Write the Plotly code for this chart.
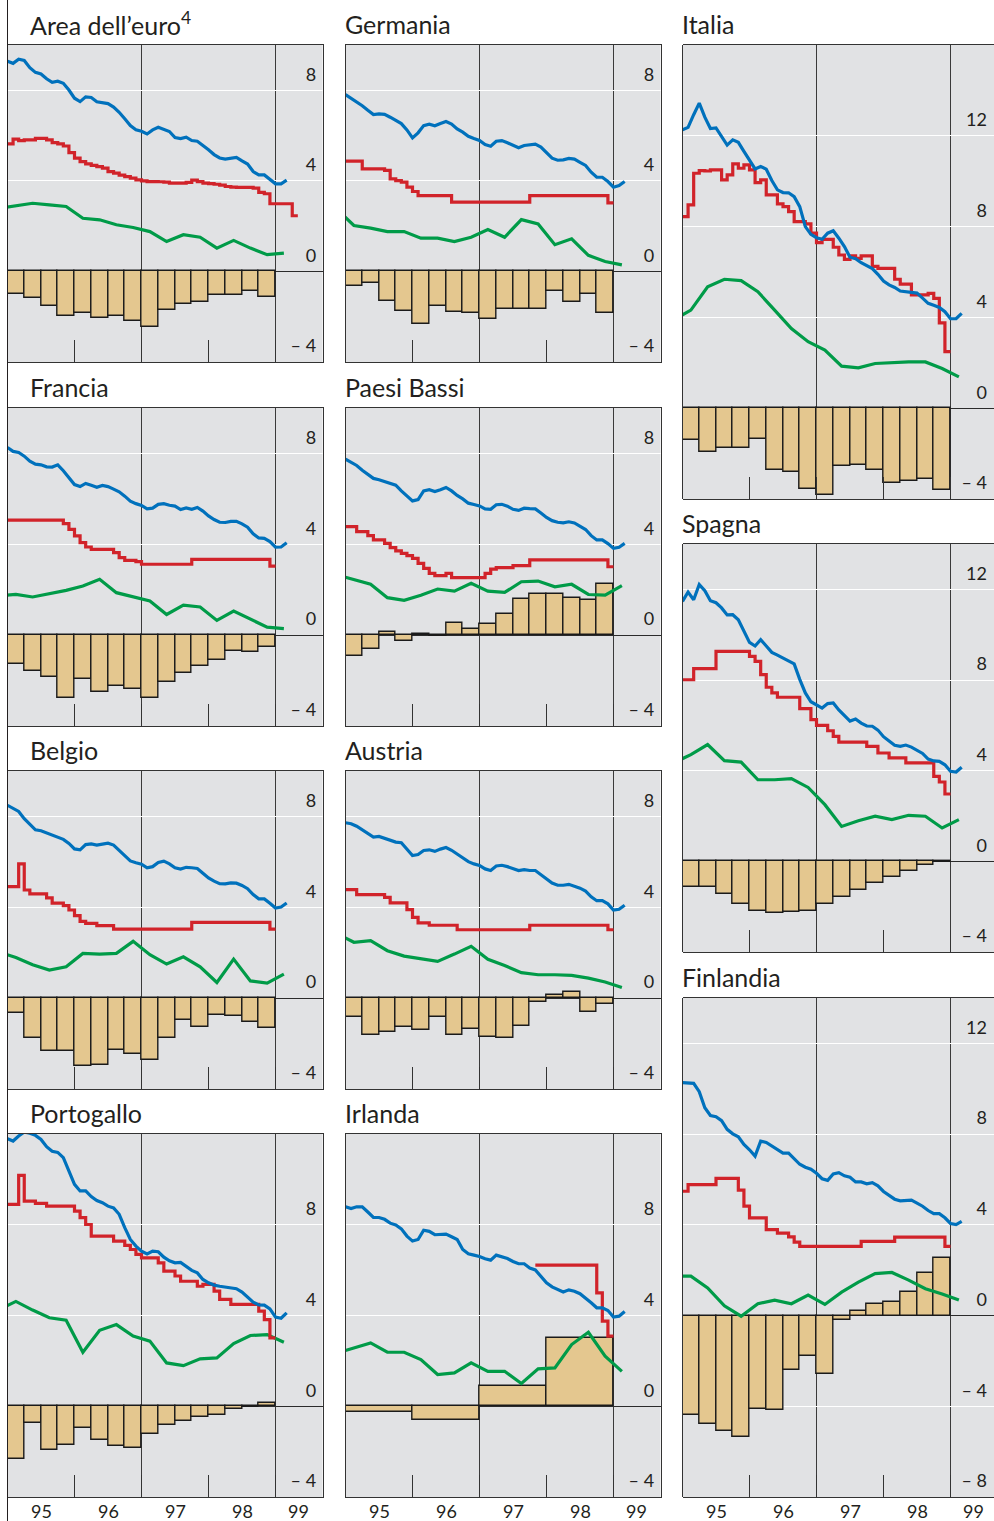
import plotly.graph_objects as go

W, H = 994, 1521
PX_PER_YEAR = 67.0
PANEL_W = 315.0

BLUE = "#0071BC"
RED = "#D1232A"
GREEN = "#009B48"
BAR_FILL = "#E4C78F"
INK = "#231F20"
BG = "#E1E2E4"

YEAR_LABELS = ["95", "96", "97", "98", "99"]
YEAR_LABEL_POS = [1995.5, 1996.5, 1997.5, 1998.5, 1999.35]
YEAR_TICKS = [1996, 1997, 1998, 1999]
FULL_LINES = [1997, 1999]

# ---------------- data (monthly from Jan 1995 / quarterly) ----------------
BLUE_AREA = [9.28, 9.19, 9.37, 9.32, 9.0, 8.79, 8.72, 8.51, 8.35, 8.40,
             8.31, 8.01, 7.65, 7.5, 7.71, 7.68, 7.49, 7.44, 7.41, 7.26,
             7.03, 6.74, 6.44, 6.26, 6.19, 6.07, 6.25, 6.37, 6.28, 6.18,
             5.91, 5.87, 5.93, 5.78, 5.75, 5.57, 5.37, 5.16, 5.01, 4.96,
             5.01, 5.04, 4.88, 4.74, 4.41, 4.26, 4.26, 4.07, 3.87, 3.87, 4.03]
BLUE_GER = [7.81, 7.66, 7.5, 7.32, 7.12, 6.93, 6.96, 6.94, 6.81, 6.65,
            6.53, 6.25, 5.9, 6.12, 6.44, 6.5, 6.43, 6.53, 6.62, 6.51,
            6.29, 6.15, 5.97, 5.87, 5.78, 5.6, 5.53, 5.75, 5.78, 5.68,
            5.56, 5.46, 5.56, 5.59, 5.62, 5.49, 5.22, 5.0, 4.91, 4.93,
            4.99, 4.96, 4.82, 4.68, 4.38, 4.16, 4.16, 3.97, 3.72, 3.79, 3.97]
BLUE_ITA = [12.26, 12.37, 12.93, 13.44, 12.82, 12.32, 12.35, 11.97, 11.59, 11.82,
            11.71, 11.31, 10.91, 10.54, 10.65, 10.53, 10.03, 9.62, 9.5, 9.49,
            9.32, 8.88, 8.0, 7.66, 7.51, 7.44, 7.71, 7.82, 7.49, 7.12,
            6.65, 6.59, 6.41, 6.26, 6.15, 5.9, 5.6, 5.43, 5.32, 5.16,
            5.13, 5.12, 5.07, 4.85, 4.62, 4.53, 4.44, 4.25, 3.94, 3.94, 4.18]
BLUE_FRA = [8.26, 8.09, 8.04, 7.88, 7.66, 7.53, 7.5, 7.41, 7.4, 7.5,
            7.24, 6.91, 6.63, 6.54, 6.68, 6.6, 6.51, 6.59, 6.54, 6.43,
            6.31, 6.12, 5.9, 5.79, 5.71, 5.56, 5.59, 5.76, 5.79, 5.72,
            5.68, 5.53, 5.6, 5.54, 5.62, 5.46, 5.25, 5.09, 4.97, 4.96,
            5.01, 5.01, 4.9, 4.75, 4.46, 4.28, 4.26, 4.12, 3.87, 3.88, 4.07]
BLUE_NLD = [7.75, 7.6, 7.47, 7.26, 7.06, 6.9, 6.84, 6.75, 6.68, 6.6,
            6.35, 6.15, 5.91, 5.97, 6.35, 6.4, 6.32, 6.4, 6.5, 6.35,
            6.15, 6.0, 5.81, 5.75, 5.69, 5.56, 5.54, 5.74, 5.76, 5.68,
            5.54, 5.49, 5.59, 5.57, 5.56, 5.38, 5.18, 5.04, 4.97, 4.94,
            4.99, 4.94, 4.79, 4.65, 4.38, 4.19, 4.19, 4.03, 3.82, 3.87, 4.04]
BLUE_ESP = [11.47, 11.88, 11.54, 12.21, 11.94, 11.5, 11.41, 11.18, 10.87, 10.88,
            10.66, 10.15, 9.66, 9.5, 9.78, 9.5, 9.22, 9.1, 8.96, 8.82,
            8.71, 8.03, 7.43, 7.04, 6.88, 6.76, 6.96, 6.99, 6.68, 6.44,
            6.19, 6.28, 6.1, 5.97, 5.96, 5.79, 5.5, 5.31, 5.12, 5.07,
            5.13, 5.04, 4.9, 4.76, 4.51, 4.43, 4.41, 4.26, 3.97, 3.94, 4.15]
BLUE_BEL = [8.49, 8.34, 8.22, 7.9, 7.66, 7.41, 7.37, 7.28, 7.16, 7.09,
            6.99, 6.81, 6.57, 6.53, 6.76, 6.79, 6.74, 6.78, 6.82, 6.74,
            6.51, 6.24, 6.04, 5.96, 5.9, 5.74, 5.79, 5.97, 6.03, 5.91,
            5.74, 5.68, 5.76, 5.74, 5.71, 5.5, 5.29, 5.15, 5.04, 5.03,
            5.07, 5.06, 4.96, 4.82, 4.56, 4.37, 4.37, 4.18, 3.97, 4.01, 4.19]
BLUE_AUT = [7.72, 7.68, 7.57, 7.41, 7.24, 7.09, 7.12, 7.04, 6.93, 6.87,
            6.84, 6.54, 6.28, 6.32, 6.5, 6.53, 6.46, 6.56, 6.63, 6.51,
            6.35, 6.18, 6.01, 5.91, 5.84, 5.69, 5.62, 5.82, 5.85, 5.79,
            5.71, 5.62, 5.66, 5.62, 5.62, 5.44, 5.22, 5.07, 4.97, 4.97,
            5.01, 4.94, 4.84, 4.71, 4.46, 4.29, 4.29, 4.15, 3.88, 3.91, 4.09]
BLUE_FIN = [10.27, 10.25, 10.24, 9.87, 9.16, 8.82, 8.77, 8.59, 8.21, 8.01,
            7.88, 7.54, 7.31, 7.03, 7.69, 7.63, 7.47, 7.33, 7.16, 7.16,
            6.9, 6.67, 6.54, 6.45, 6.27, 6.03, 5.96, 6.24, 6.3, 6.16,
            6.1, 5.89, 5.89, 5.81, 5.86, 5.72, 5.47, 5.28, 5.13, 5.06,
            5.06, 5.09, 4.96, 4.82, 4.63, 4.49, 4.49, 4.31, 4.06, 4.01, 4.15]
BLUE_PRT = [11.79, 11.69, 11.91, 12.09, 12.03, 11.94, 11.76, 11.44, 11.24, 11.19,
            10.96, 10.37, 9.78, 9.49, 9.49, 9.24, 9.07, 8.97, 8.82, 8.74,
            8.46, 7.87, 7.35, 7.06, 6.84, 6.71, 6.84, 6.81, 6.57, 6.41,
            6.32, 6.34, 6.18, 5.99, 5.88, 5.59, 5.44, 5.34, 5.29, 5.25,
            5.22, 5.18, 5.03, 4.82, 4.59, 4.47, 4.46, 4.29, 3.93, 3.88, 4.12]
BLUE_IRL = [8.79, 8.71, 8.79, 8.79, 8.56, 8.32, 8.32, 8.24, 8.07, 7.99,
            7.82, 7.5, 7.28, 7.35, 7.76, 7.71, 7.56, 7.59, 7.59, 7.47,
            7.35, 6.91, 6.72, 6.66, 6.6, 6.5, 6.44, 6.66, 6.59, 6.51,
            6.38, 6.28, 6.28, 6.09, 6.01, 5.74, 5.44, 5.26, 5.15, 5.04,
            5.13, 5.07, 4.96, 4.78, 4.56, 4.34, 4.34, 4.22, 3.93, 3.97, 4.18]

RED_AREA = [5.63, 5.84, 5.78, 5.81, 5.81, 5.88, 5.88, 5.81, 5.69, 5.63,
            5.54, 5.25, 5.0, 4.85, 4.75, 4.68, 4.63, 4.56, 4.41, 4.34,
            4.25, 4.19, 4.12, 4.04, 4.0, 3.97, 3.97, 3.96, 3.94, 3.9,
            3.9, 3.9, 3.93, 4.03, 3.97, 3.9, 3.88, 3.85, 3.81, 3.75,
            3.72, 3.71, 3.71, 3.71, 3.68, 3.49, 3.43, 2.99, 2.99, 2.99,
            2.99, 2.46]
RED_GER = [4.87, 4.87, 4.87, 4.53, 4.53, 4.53, 4.53, 4.46, 4.09, 4.01,
           3.94, 3.72, 3.53, 3.35, 3.35, 3.35, 3.35, 3.35, 3.35, 3.06,
           3.06, 3.06, 3.06, 3.06, 3.06, 3.06, 3.06, 3.06, 3.06, 3.06,
           3.06, 3.06, 3.06, 3.35, 3.35, 3.35, 3.35, 3.35, 3.35, 3.35,
           3.35, 3.35, 3.35, 3.35, 3.35, 3.35, 3.35, 3.03]
RED_ITA = [8.44, 8.96, 10.35, 10.47, 10.45, 10.5, 10.5, 10.06, 10.28, 10.76,
           10.57, 10.72, 10.5, 9.94, 10.06, 9.4, 9.4, 9.0, 8.88, 8.66,
           8.22, 8.22, 8.12, 7.71, 7.29, 7.44, 7.44, 7.09, 6.75, 6.56,
           6.71, 6.6, 6.71, 6.71, 6.25, 6.16, 6.16, 6.16, 5.68, 5.47,
           5.47, 4.99, 4.99, 4.99, 5.06, 4.84, 3.76, 2.49]
RED_FRA = [5.06, 5.06, 5.06, 5.06, 5.06, 5.06, 5.06, 5.06, 5.06, 5.06,
           4.91, 4.66, 4.37, 4.07, 3.88, 3.78, 3.78, 3.78, 3.78, 3.63,
           3.41, 3.29, 3.29, 3.24, 3.12, 3.12, 3.12, 3.12, 3.12, 3.12,
           3.12, 3.12, 3.12, 3.34, 3.34, 3.34, 3.34, 3.34, 3.34, 3.34,
           3.34, 3.34, 3.34, 3.34, 3.34, 3.34, 3.34, 3.04]
RED_NLD = [4.78, 4.78, 4.56, 4.56, 4.38, 4.19, 4.19, 4.04, 3.85, 3.71,
           3.6, 3.5, 3.38, 3.16, 2.94, 2.72, 2.62, 2.62, 2.72, 2.53,
           2.53, 2.53, 2.53, 2.53, 2.53, 2.72, 2.91, 2.97, 2.97, 2.97,
           3.06, 3.06, 3.06, 3.31, 3.31, 3.31, 3.31, 3.31, 3.31, 3.31,
           3.31, 3.31, 3.31, 3.31, 3.31, 3.31, 3.31, 3.01]
RED_ESP = [8.01, 8.01, 8.5, 8.5, 8.5, 8.5, 9.26, 9.26, 9.26, 9.26,
           9.26, 9.26, 9.04, 8.82, 8.24, 7.68, 7.43, 7.24, 7.24, 7.24,
           7.24, 6.74, 6.74, 6.25, 6.0, 6.0, 5.76, 5.51, 5.26, 5.26,
           5.26, 5.26, 5.26, 5.07, 5.07, 4.78, 4.78, 4.56, 4.56, 4.56,
           4.34, 4.34, 4.34, 4.34, 4.34, 3.75, 3.5, 2.97]
RED_BEL = [4.91, 4.91, 5.91, 4.76, 4.59, 4.59, 4.59, 4.41, 4.18, 4.18,
           4.07, 3.88, 3.63, 3.38, 3.29, 3.29, 3.19, 3.19, 3.19, 3.04,
           3.04, 3.04, 3.04, 3.04, 3.04, 3.04, 3.04, 3.04, 3.04, 3.04,
           3.04, 3.04, 3.04, 3.34, 3.34, 3.34, 3.34, 3.34, 3.34, 3.34,
           3.34, 3.34, 3.34, 3.34, 3.34, 3.34, 3.34, 3.04]
RED_AUT = [4.78, 4.78, 4.56, 4.56, 4.56, 4.56, 4.56, 4.44, 4.19, 4.19,
           4.19, 3.9, 3.56, 3.31, 3.31, 3.21, 3.21, 3.21, 3.21, 3.21,
           3.01, 3.01, 3.01, 3.01, 3.01, 3.01, 3.01, 3.01, 3.01, 3.01,
           3.01, 3.01, 3.01, 3.21, 3.21, 3.21, 3.21, 3.21, 3.21, 3.21,
           3.21, 3.21, 3.21, 3.21, 3.21, 3.21, 3.21, 3.01]
RED_FIN = [5.48, 5.77, 5.77, 5.77, 5.77, 5.77, 6.05, 6.05, 6.05, 6.05,
           5.53, 4.82, 4.31, 4.31, 4.31, 3.79, 3.79, 3.63, 3.63, 3.47,
           3.24, 3.05, 3.05, 3.05, 3.05, 3.05, 3.05, 3.05, 3.05, 3.05,
           3.05, 3.05, 3.27, 3.27, 3.27, 3.27, 3.27, 3.27, 3.46, 3.46,
           3.46, 3.46, 3.46, 3.46, 3.46, 3.46, 3.46, 3.05]
RED_PRT = [8.9, 8.9, 10.18, 9.04, 9.04, 8.94, 8.94, 8.82, 8.82, 8.82,
           8.82, 8.82, 8.6, 8.31, 8.01, 7.5, 7.5, 7.5, 7.5, 7.28,
           7.28, 7.09, 6.91, 6.69, 6.54, 6.54, 6.54, 6.32, 5.96, 5.96,
           5.74, 5.51, 5.51, 5.51, 5.29, 5.37, 5.37, 5.07, 4.71, 4.71,
           4.49, 4.49, 4.49, 4.49, 4.49, 4.19, 3.82, 3.01]
RED_IRL = [6.22, 6.22, 6.22, 6.22, 6.22, 6.22, 6.22, 6.22, 6.22, 6.22,
           6.22, 5.0, 3.75, 3.09]
RED_IRL_START = 34   # first month (Nov 1997) counted from Jan 1995

# quarterly, 1994 Q4 ... 1999 Q1
GREEN_AREA = [2.79, 2.9, 3.01, 2.94, 2.87, 2.35, 2.28, 2.06, 1.94, 1.76, 1.32, 1.62, 1.51, 1.03, 1.37, 1.03, 0.74, 0.81]
GREEN_GER = [2.74, 2.03, 1.91, 1.76, 1.76, 1.47, 1.47, 1.32, 1.51, 1.85, 1.51, 2.29, 2.1, 1.18, 1.44, 0.71, 0.44, 0.29]
GREEN_ITA = [3.91, 4.32, 5.35, 5.68, 5.62, 5.13, 4.32, 3.51, 2.93, 2.56, 1.85, 1.78, 1.97, 2.01, 2.04, 2.04, 1.75, 1.38]
GREEN_FRA = [1.74, 1.79, 1.68, 1.82, 1.97, 2.16, 2.46, 1.87, 1.68, 1.5, 0.91, 1.32, 1.24, 0.65, 1.06, 0.69, 0.35, 0.29]
GREEN_NLD = [2.65, 2.46, 2.24, 1.65, 1.53, 1.76, 2.03, 1.94, 2.28, 1.94, 1.88, 2.35, 2.38, 2.13, 2.24, 1.79, 1.76, 2.18]
GREEN_ESP = [4.35, 4.71, 5.15, 4.44, 4.38, 3.6, 3.6, 3.65, 3.26, 2.5, 1.54, 1.79, 1.99, 1.84, 2.03, 1.99, 1.47, 1.84]
GREEN_BEL = [2.03, 1.79, 1.47, 1.24, 1.38, 1.97, 1.94, 1.97, 2.5, 1.91, 1.5, 1.82, 1.38, 0.69, 1.72, 0.76, 0.66, 1.06]
GREEN_AUT = [2.84, 2.46, 2.53, 2.09, 1.85, 1.74, 1.62, 1.94, 2.28, 1.71, 1.44, 1.12, 1.03, 1.03, 1.0, 0.88, 0.71, 0.47]
GREEN_FIN = [1.74, 1.74, 1.22, 0.43, -0.03, 0.52, 0.68, 0.52, 0.9, 0.49, 1.03, 1.47, 1.85, 1.9, 1.56, 1.18, 0.95, 0.68]
GREEN_PRT = [4.26, 4.62, 4.24, 3.9, 3.79, 2.38, 3.35, 3.6, 3.09, 2.87, 1.91, 1.79, 2.09, 2.13, 2.76, 3.12, 3.16, 2.82]
GREEN_IRL = [2.35, 2.56, 2.79, 2.38, 2.38, 2.06, 1.4, 1.47, 1.91, 1.54, 1.54, 1.0, 1.65, 1.69, 2.72, 3.26, 2.21, 1.54]

# quarterly bars 1995 Q1 ... 1998 Q4 (Irlanda: annual 1995 ... 1998)
BARS_AREA = [-0.99, -1.19, -1.51, -1.96, -1.84, -2.06, -1.99, -2.21, -2.46, -1.69, -1.43, -1.37, -1.03, -1.03, -0.85, -1.15]
BARS_GER = [-0.65, -0.5, -1.32, -1.76, -2.31, -1.53, -1.79, -1.82, -2.09, -1.65, -1.68, -1.68, -0.88, -1.35, -0.99, -1.82]
BARS_ITA = [-1.41, -1.93, -1.74, -1.74, -1.34, -2.74, -2.81, -3.54, -3.84, -2.56, -2.49, -2.71, -3.29, -3.21, -3.1, -3.62]
BARS_FRA = [-1.26, -1.56, -1.85, -2.76, -1.93, -2.5, -2.25, -2.37, -2.76, -2.06, -1.66, -1.37, -1.1, -0.68, -0.76, -0.5]
BARS_NLD = [-0.91, -0.62, 0.15, -0.24, 0.03, -0.04, 0.54, 0.29, 0.47, 0.91, 1.59, 1.79, 1.79, 1.65, 1.54, 2.24]
BARS_ESP = [-1.15, -1.15, -1.44, -1.88, -2.18, -2.28, -2.24, -2.18, -1.88, -1.59, -1.25, -0.96, -0.71, -0.44, -0.15, -0.03]
BARS_BEL = [-0.65, -1.76, -2.32, -2.32, -2.99, -2.94, -2.29, -2.44, -2.74, -1.74, -0.97, -1.29, -0.74, -0.78, -1.04, -1.32]
BARS_AUT = [-0.85, -1.62, -1.47, -1.29, -1.41, -0.82, -1.62, -1.37, -1.69, -1.74, -1.22, -0.19, 0.15, 0.25, -0.59, -0.24]
BARS_FIN = [-4.38, -4.77, -5.09, -5.37, -4.11, -4.15, -2.42, -1.77, -2.56, -0.21, 0.21, 0.51, 0.58, 1.03, 1.86, 2.53]
BARS_PRT = [-2.32, -0.76, -1.94, -1.69, -0.96, -1.47, -1.74, -1.84, -1.21, -0.81, -0.66, -0.47, -0.4, -0.12, -0.04, 0.15]
BARS_IRL = [-0.26, -0.59, 0.91, 3.01]

# ---------------- panel layout ----------------
COL_LEFT = [7.5, 345.5, 682.5]
TITLE_X = [28, 343, 680]
ROWS_12 = [(45, 362), (408, 726), (771, 1089), (1134, 1497)]
ROWS_3 = [(45, 499), (544, 952), (998, 1497)]
YEAR_LABEL_Y = 1511

PANELS = [
    dict(title="Area dell’euro<sup>4</sup>", col=0, rows=ROWS_12[0], yr=[-4, 10], tv=[-4, 0, 4, 8],
         blue=BLUE_AREA, red=RED_AREA, red0=0, green=GREEN_AREA, bars=BARS_AREA, annual=False, bottom=False),
    dict(title="Francia", col=0, rows=ROWS_12[1], yr=[-4, 10], tv=[-4, 0, 4, 8],
         blue=BLUE_FRA, red=RED_FRA, red0=0, green=GREEN_FRA, bars=BARS_FRA, annual=False, bottom=False),
    dict(title="Belgio", col=0, rows=ROWS_12[2], yr=[-4, 10], tv=[-4, 0, 4, 8],
         blue=BLUE_BEL, red=RED_BEL, red0=0, green=GREEN_BEL, bars=BARS_BEL, annual=False, bottom=False),
    dict(title="Portogallo", col=0, rows=ROWS_12[3], yr=[-4, 12], tv=[-4, 0, 4, 8],
         blue=BLUE_PRT, red=RED_PRT, red0=0, green=GREEN_PRT, bars=BARS_PRT, annual=False, bottom=True),
    dict(title="Germania", col=1, rows=ROWS_12[0], yr=[-4, 10], tv=[-4, 0, 4, 8],
         blue=BLUE_GER, red=RED_GER, red0=0, green=GREEN_GER, bars=BARS_GER, annual=False, bottom=False),
    dict(title="Paesi Bassi", col=1, rows=ROWS_12[1], yr=[-4, 10], tv=[-4, 0, 4, 8],
         blue=BLUE_NLD, red=RED_NLD, red0=0, green=GREEN_NLD, bars=BARS_NLD, annual=False, bottom=False),
    dict(title="Austria", col=1, rows=ROWS_12[2], yr=[-4, 10], tv=[-4, 0, 4, 8],
         blue=BLUE_AUT, red=RED_AUT, red0=0, green=GREEN_AUT, bars=BARS_AUT, annual=False, bottom=False),
    dict(title="Irlanda", col=1, rows=ROWS_12[3], yr=[-4, 12], tv=[-4, 0, 4, 8],
         blue=BLUE_IRL, red=RED_IRL, red0=RED_IRL_START, green=GREEN_IRL, bars=BARS_IRL, annual=True, bottom=True),
    dict(title="Italia", col=2, rows=ROWS_3[0], yr=[-4, 16], tv=[-4, 0, 4, 8, 12],
         blue=BLUE_ITA, red=RED_ITA, red0=0, green=GREEN_ITA, bars=BARS_ITA, annual=False, bottom=False),
    dict(title="Spagna", col=2, rows=ROWS_3[1], yr=[-4, 14], tv=[-4, 0, 4, 8, 12],
         blue=BLUE_ESP, red=RED_ESP, red0=0, green=GREEN_ESP, bars=BARS_ESP, annual=False, bottom=False),
    dict(title="Finlandia", col=2, rows=ROWS_3[2], yr=[-8, 14], tv=[-8, -4, 0, 4, 8, 12],
         blue=BLUE_FIN, red=RED_FIN, red0=0, green=GREEN_FIN, bars=BARS_FIN, annual=False, bottom=True),
]


def month_pos(m):
    return 1995 + m / 12.0


def tick_text(v):
    return f"– {abs(v)}" if v < 0 else str(v)


fig = go.Figure()
layout = dict(
    width=W, height=H, margin=dict(l=0, r=0, t=0, b=0),
    paper_bgcolor="white", plot_bgcolor=BG, showlegend=False,
    template="none", font=dict(family="Lato, 'Open Sans', sans-serif", color=INK),
    bargap=0,
)
shapes = []
annotations = []

for i, p in enumerate(PANELS, start=1):
    s = "" if i == 1 else str(i)
    xn, yn = "x" + s, "y" + s
    left = COL_LEFT[p["col"]]
    right = min(left + PANEL_W, W)
    clipped = (left + PANEL_W) - right
    top, bottom = p["rows"]

    layout["xaxis" + s] = dict(
        domain=[left / W, right / W],
        range=[1995, 1995 + (right - left) / PX_PER_YEAR],
        anchor=yn, showgrid=False, zeroline=False,
        showline=True, mirror=True, linecolor="#333333", linewidth=1,
        tickmode="array", tickvals=YEAR_TICKS, ticks="inside", ticklen=22,
        tickcolor="#333333", tickwidth=1, showticklabels=False,
        fixedrange=True,
    )
    layout["yaxis" + s] = dict(
        domain=[1 - bottom / H, 1 - top / H], range=p["yr"], anchor=xn, side="right",
        tickmode="array", tickvals=p["tv"], ticktext=[tick_text(v) for v in p["tv"]],
        ticks="", ticklabelposition="inside", ticklabelshift=-16,
        ticklabelstandoff=int(round(max(7 - clipped, 1))),
        tickfont=dict(size=18, color=INK),
        showgrid=True, gridcolor="white", gridwidth=1.3,
        zeroline=True, zerolinecolor="#2B2B2B", zerolinewidth=1.2,
        showline=(p["col"] != 2), mirror=True, linecolor="#333333", linewidth=1,
        fixedrange=True,
    )
    if p["col"] == 2:
        shapes.append(dict(type="line", xref=xn + " domain", yref=yn + " domain",
                           x0=0, x1=0, y0=0, y1=1, line=dict(color="#333333", width=1)))
    for xv in FULL_LINES:
        shapes.append(dict(type="line", xref=xn, yref=yn + " domain", x0=xv, x1=xv, y0=0, y1=1,
                           line=dict(color="#3A3A3A", width=1), layer="below"))

    # bars
    if p["annual"]:
        bx = [1995.5 + k for k in range(len(p["bars"]))]
        bw = 1.0
    else:
        bx = [1995.125 + 0.25 * k for k in range(len(p["bars"]))]
        bw = 0.25
    fig.add_trace(go.Bar(x=bx, y=p["bars"], width=bw, xaxis=xn, yaxis=yn,
                         marker=dict(color=BAR_FILL, line=dict(color="#1A1A1A", width=1.4)),
                         hoverinfo="skip"))
    # green (quarterly, mid-quarter)
    gx = [1994.875 + 0.25 * k for k in range(len(p["green"]))]
    fig.add_trace(go.Scatter(x=gx, y=p["green"], mode="lines", xaxis=xn, yaxis=yn,
                             line=dict(color=GREEN, width=3.2), hoverinfo="skip"))
    # red (monthly steps)
    rv = p["red"]
    rx = [month_pos(p["red0"] + k) for k in range(len(rv) + 1)]
    fig.add_trace(go.Scatter(x=rx, y=rv + [rv[-1]], mode="lines", xaxis=xn, yaxis=yn,
                             line=dict(color=RED, width=3.2, shape="hv"), hoverinfo="skip"))
    # blue (monthly)
    bxm = [month_pos(k) for k in range(len(p["blue"]))]
    fig.add_trace(go.Scatter(x=bxm, y=p["blue"], mode="lines", xaxis=xn, yaxis=yn,
                             line=dict(color=BLUE, width=3.2), hoverinfo="skip"))

    annotations.append(dict(text=p["title"], xref="paper", yref="paper",
                            x=TITLE_X[p["col"]] / W, y=1 - (top - 21) / H,
                            xanchor="left", yanchor="middle", showarrow=False,
                            font=dict(size=25, color=INK)))
    if p["bottom"]:
        for lab, pos in zip(YEAR_LABELS, YEAR_LABEL_POS):
            annotations.append(dict(text=lab, xref=xn, yref="paper", x=pos,
                                    y=1 - YEAR_LABEL_Y / H, xanchor="center", yanchor="middle",
                                    showarrow=False, font=dict(size=18, color=INK)))

shapes.append(dict(type="line", xref="paper", yref="paper", x0=7.5 / W, x1=7.5 / W, y0=0, y1=1,
                   line=dict(color=INK, width=1)))

layout["shapes"] = shapes
layout["annotations"] = annotations
fig.update_layout(**layout)
fig.write_html("out.html", config={"displayModeBar": False},
               post_script="document.body.style.margin='0';")
